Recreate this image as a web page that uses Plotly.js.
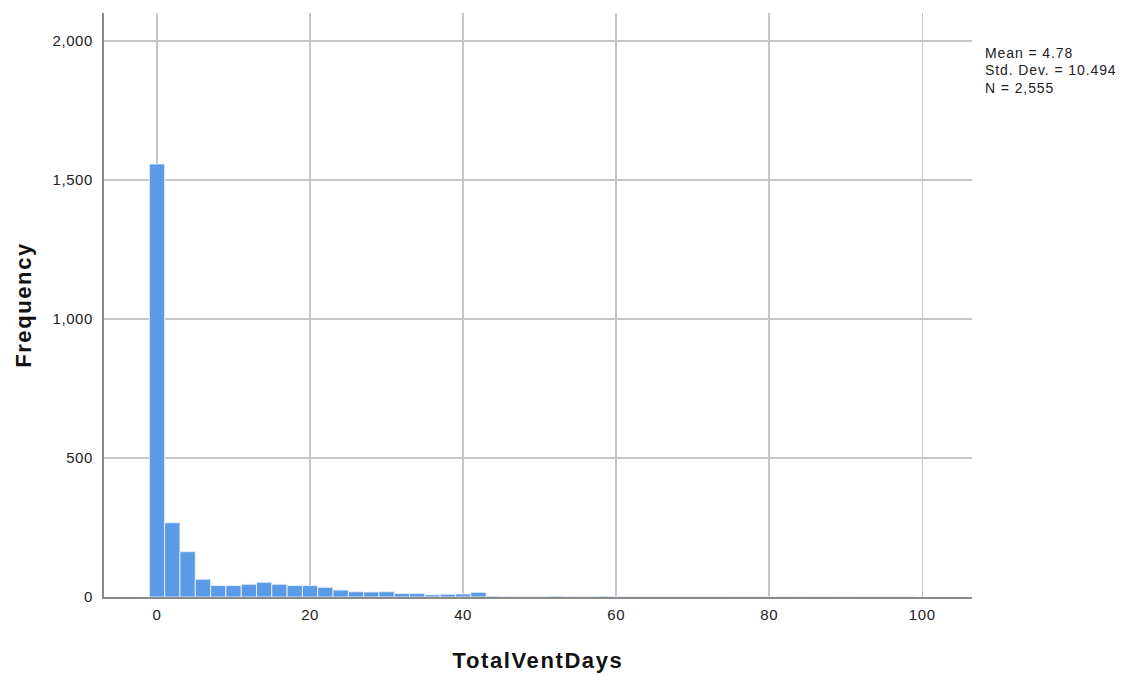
<!DOCTYPE html>
<html>
<head>
<meta charset="utf-8">
<script src="https://cdn.plot.ly/plotly-3.0.1.min.js"></script>
<style>
html,body{margin:0;padding:0;background:#fff;}
#chart{width:1129px;height:675px;}
#chart .xtick text,#chart .ytick text{letter-spacing:0.6px;}
#chart .xtitle,#chart .ytitle{letter-spacing:1.6px;}
#chart .annotation-text{letter-spacing:0.9px;}
</style>
</head>
<body>
<div id="chart"></div>
<script>
// Bin centres (bin width 2 days) and counts
const binCenters = [0, 2, 4, 6, 8, 10, 12, 14, 16, 18, 20, 22, 24, 26, 28, 30, 32, 34, 36, 38, 40, 42,
  44, 46, 48, 50, 52, 54, 56, 58, 60, 62, 64, 66, 68, 70, 72, 74, 76, 78, 80, 82, 84, 86, 88, 90, 92, 94, 96, 98];
const counts = [1557, 267, 163, 64, 41, 41, 46, 53, 46, 41, 41, 35, 25, 19, 18, 19, 13, 13, 8, 10, 11, 17,
  3, 2, 2, 2, 3, 2, 2, 3, 2, 1, 1, 1, 1, 1, 1, 1, 0, 0, 0, 1, 0, 1, 1, 0, 1, 1, 1, 1];
const xTicks = [0, 20, 40, 60, 80, 100];
const yTicks = [0, 500, 1000, 1500, 2000];
const statsLines = ["Mean = 4.78", "Std. Dev. = 10.494", "N = 2,555"];

const font = "Liberation Sans, Arial, sans-serif";

const statsAnn = statsLines.map((t, i) => ({
  xref: "paper", yref: "paper", x: 1.013, y: 0.932 - i * 0.0299,
  xanchor: "left", yanchor: "middle", align: "left", showarrow: false,
  text: t, font: {family: font, size: 14, color: "#222"}
}));

Plotly.newPlot("chart", [{
  type: "bar",
  x: binCenters,
  y: counts,
  width: 2,
  marker: {color: "#5a9ae6", line: {color: "rgba(235,242,252,0.9)", width: 1}},
  hoverinfo: "x+y"
}], {
  width: 1129, height: 675,
  margin: {l: 104, r: 157, t: 13, b: 78},
  paper_bgcolor: "#fff", plot_bgcolor: "#fff",
  showlegend: false,
  bargap: 0,
  xaxis: {
    range: [-6.93, 106.5],
    tickvals: xTicks, ticktext: xTicks.map(String),
    showgrid: true, gridcolor: "#c6c6c6", gridwidth: 1.5,
    zeroline: false, showline: true, linecolor: "#8a8a8a", linewidth: 2,
    ticks: "", ticklabelstandoff: 3,
    tickfont: {family: font, size: 15, color: "#222"},
    title: {text: "<b>TotalVentDays</b>", font: {family: font, size: 22, color: "#111"}, standoff: 31}
  },
  yaxis: {
    range: [0, 2100],
    tickvals: yTicks, ticktext: yTicks.map(v => v.toLocaleString("en-US")),
    showgrid: true, gridcolor: "#c6c6c6", gridwidth: 1.5,
    zeroline: false, showline: true, linecolor: "#8a8a8a", linewidth: 2,
    ticks: "", ticklabelstandoff: 6,
    tickfont: {family: font, size: 15, color: "#222"},
    title: {text: "<b>Frequency</b>", font: {family: font, size: 22, color: "#111"}, standoff: 18}
  },
  annotations: statsAnn
}, {displayModeBar: false, staticPlot: true});
</script>
</body>
</html>
